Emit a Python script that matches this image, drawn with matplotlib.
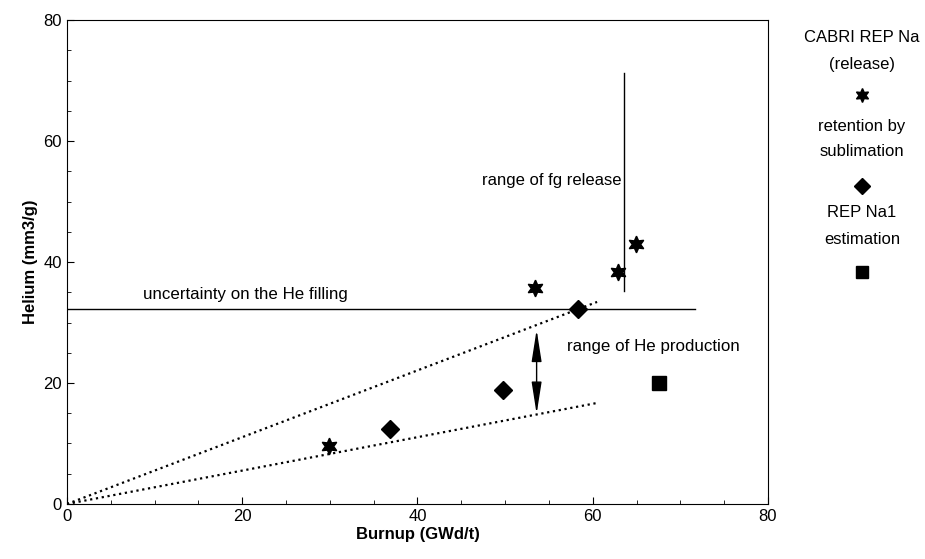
import numpy as np
import matplotlib
matplotlib.use('Agg')
import matplotlib.pyplot as plt
from matplotlib.ticker import MultipleLocator

plt.rcParams['font.family'] = ['Liberation Sans', 'DejaVu Sans']

# データ
release_x = [29.9, 53.4, 62.9, 64.9]
release_y = [9.6, 35.7, 38.3, 43.0]
sublim_x = [36.9, 49.8, 58.3]
sublim_y = [12.4, 18.8, 32.2]
na1_x = [67.6]
na1_y = [20.0]

he_fill = 32.2
he_fill_xmax = 71.7
fg_x = 63.6
fg_range = [35.2, 71.2]
prod_x = [0, 60.5]
prod_hi = [0, 33.4]
prod_lo = [0, 16.7]
arrow_x = 53.6
arrow_y = [28.8, 14.9]

star = (6, 1, 0)

fig = plt.figure(figsize=(9.25, 5.59), dpi=100)
ax = fig.add_axes([0.0724, 0.0984, 0.7578, 0.8658])

ax.plot(prod_x, prod_hi, ':', color='black', lw=1.6)
ax.plot(prod_x, prod_lo, ':', color='black', lw=1.6)
ax.plot([0, he_fill_xmax], [he_fill, he_fill], '-', color='black', lw=1.0)
ax.plot([fg_x, fg_x], fg_range, '-', color='black', lw=1.0)
ax.annotate('', xy=(arrow_x, arrow_y[0]), xytext=(arrow_x, arrow_y[1]),
            arrowprops=dict(arrowstyle='<|-|>,head_length=1.4,head_width=0.22',
                            color='black', lw=1.0,
                            mutation_scale=14, shrinkA=0, shrinkB=0))

ax.plot(release_x, release_y, linestyle='none', marker=star, ms=12, color='black')
ax.plot(sublim_x, sublim_y, linestyle='none', marker='D', ms=9, color='black')
ax.plot(na1_x, na1_y, linestyle='none', marker='s', ms=10, color='black')

ax.text(63.3, 53.4, 'range of fg release', ha='right', va='center', fontsize=12)
ax.text(8.7, 34.7, 'uncertainty on the He filling', ha='left', va='center', fontsize=12.2)
ax.text(57.1, 26.0, 'range of He production', ha='left', va='center', fontsize=12.2)

ax.set_xlim(0, 80)
ax.set_ylim(0, 80)
ax.xaxis.set_major_locator(MultipleLocator(20))
ax.yaxis.set_major_locator(MultipleLocator(20))
ax.xaxis.set_minor_locator(MultipleLocator(5))
ax.yaxis.set_minor_locator(MultipleLocator(5))
ax.tick_params(which='both', direction='in', labelsize=12)
ax.tick_params(which='major', length=5)
ax.tick_params(which='minor', length=3)
ax.set_xlabel('Burnup (GWd/t)', fontsize=12, fontweight='bold', labelpad=2)
ax.set_ylabel('Helium (mm3/g)', fontsize=12, fontweight='bold')

# 凡例（手書き風）
lx = 862 / 925
def fy(py):
    return 1 - py / 559
for txt, py in [('CABRI REP Na', 37), ('(release)', 65), ('retention by', 127),
                ('sublimation', 152), ('REP Na1', 213), ('estimation', 239)]:
    fig.text(lx, fy(py), txt, ha='center', va='center', fontsize=12)
fig.lines.append(plt.Line2D([lx], [fy(95)], marker=star, ms=10, color='black',
                            linestyle='none', transform=fig.transFigure))
fig.lines.append(plt.Line2D([lx], [fy(186)], marker='D', ms=8, color='black',
                            linestyle='none', transform=fig.transFigure))
fig.lines.append(plt.Line2D([lx], [fy(272)], marker='s', ms=9, color='black',
                            linestyle='none', transform=fig.transFigure))

fig.savefig('out.png', dpi=100)
